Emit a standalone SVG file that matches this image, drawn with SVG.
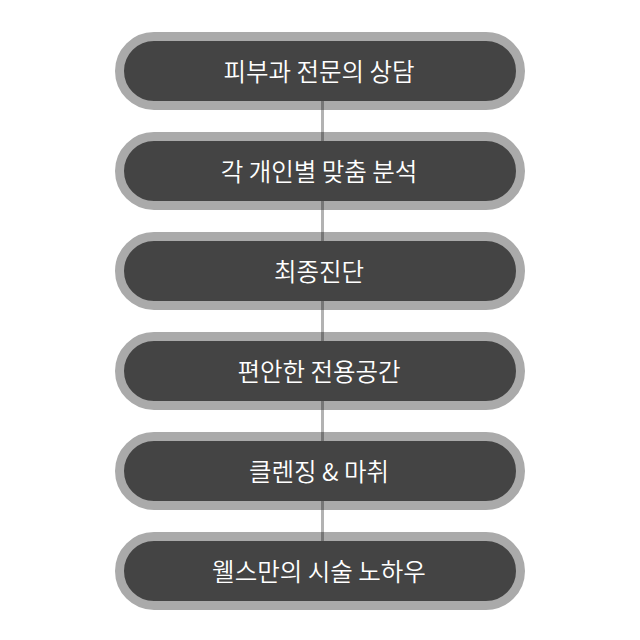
<svg xmlns="http://www.w3.org/2000/svg" width="640" height="640" viewBox="0 0 640 640">
<style>
.pill{fill:#444444;stroke:#aaaaaa;stroke-width:9}
.lbl{fill:#ffffff;font-family:"Noto Sans CJK KR","Noto Sans",sans-serif;font-size:24.5px;font-weight:350;text-anchor:middle}
.conn{stroke:#000000;stroke-opacity:0.3;stroke-width:3}
</style>
<rect width="640" height="640" fill="#ffffff"/>
<g id="n1"><rect class="pill" x="119.5" y="36.5" width="401" height="69" rx="34.5"/><text class="lbl" x="319" y="81">피부과 전문의 상담</text></g>
<g id="n2"><rect class="pill" x="119.5" y="136.5" width="401" height="69" rx="34.5"/><text class="lbl" x="319" y="181">각 개인별 맞춤 분석</text></g>
<g id="n3"><rect class="pill" x="119.5" y="236.5" width="401" height="69" rx="34.5"/><text class="lbl" x="319" y="281">최종진단</text></g>
<g id="n4"><rect class="pill" x="119.5" y="336.5" width="401" height="69" rx="34.5"/><text class="lbl" x="319" y="381">편안한 전용공간</text></g>
<g id="n5"><rect class="pill" x="119.5" y="436.5" width="401" height="69" rx="34.5"/><text class="lbl" x="319" y="481">클렌징 &amp; 마취</text></g>
<g id="n6"><rect class="pill" x="119.5" y="536.5" width="401" height="69" rx="34.5"/><text class="lbl" x="319" y="581">웰스만의 시술 노하우</text></g>
<g id="connectors">
<line class="conn" x1="322.5" y1="101" x2="322.5" y2="141"/>
<line class="conn" x1="322.5" y1="201" x2="322.5" y2="241"/>
<line class="conn" x1="322.5" y1="301" x2="322.5" y2="341"/>
<line class="conn" x1="322.5" y1="401" x2="322.5" y2="441"/>
<line class="conn" x1="322.5" y1="501" x2="322.5" y2="541"/>
</g>
</svg>
